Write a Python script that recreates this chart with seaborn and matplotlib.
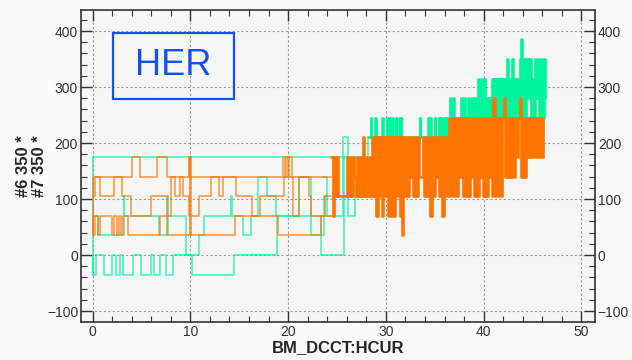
import matplotlib
matplotlib.use("Agg")
import matplotlib.pyplot as plt
import seaborn as sns
import pandas as pd
from matplotlib.patches import Rectangle
from matplotlib.ticker import MultipleLocator

# ---------------- data ----------------
x_label = "BM_DCCT:HCUR"
y_label = "#6 350 *\n#7 350 *"
box_text = "HER"
x_ticks = [0, 10, 20, 30, 40, 50]
y_ticks = [-100, 0, 100, 200, 300, 400]

# channel #6 (green) - sparse traces
green_a_x = [0.00, 0.00, 27.30]
green_a_y = [-35, 175, 105]

green_b_x = [0.00, 0.03, 0.30, 1.16, 1.98, 2.42, 2.83, 3.10, 4.10, 4.90, 6.00, 6.24,
             6.86, 7.47, 8.20, 10.20, 14.50, 18.90, 23.40, 25.70]
green_b_y = [0, -35, 0, -35, 0, -35, 0, -35, 0, -35, 0, -35,
             0, -35, 0, -35, 0, 70, 0, 175]

green_c_x = [0.00, 0.60, 3.20, 3.25, 6.80, 7.70, 7.75, 9.60, 10.90, 11.40, 14.20, 14.25,
             15.40, 16.20, 16.90, 17.80, 18.80, 21.10, 22.30, 23.70, 24.00]
green_c_y = [70, 35, 105, 70, 35, 105, 70, 0, 35, 70, 105, 70,
             35, 70, 140, 105, 70, 140, 35, 105, 105]

green_d_x = [23.50, 24.00, 25.60, 26.10, 26.80, 27.80, 28.20]
green_d_y = [140, 70, 210, 70, 175, 105, 210]

# channel #6 (green) - dense part
green_dense_x = [28.20, 28.45, 28.52, 28.90, 28.97, 29.60, 29.67, 30.10, 30.17, 30.40, 30.47,
                 30.62, 30.72, 31.00, 31.07, 31.30, 31.40, 31.50, 31.60, 33.45, 33.52, 34.30,
                 34.37, 34.55, 34.62, 35.00, 35.07, 35.40, 35.47, 35.60, 35.67, 35.90, 35.97,
                 36.20, 36.27, 36.45, 36.60, 36.67, 36.90, 36.97, 37.70, 37.77, 37.95, 38.05,
                 38.40, 38.55, 38.70, 38.85, 39.00, 39.15, 39.30, 39.40, 39.50, 39.65, 39.75,
                 39.85, 40.00, 40.10, 40.25, 40.40, 40.55, 40.70, 40.90, 41.05, 41.20, 41.35,
                 41.50, 41.65, 41.80, 41.95, 42.10, 42.25, 42.35, 42.45, 42.60, 42.75, 42.90,
                 43.00, 43.15, 43.30, 43.45, 43.60, 43.75, 43.82, 43.90, 44.05, 44.20, 44.35,
                 44.50, 44.65, 44.80, 44.95, 45.10, 45.25, 45.40, 45.55, 45.70, 45.85, 46.00,
                 46.15, 46.30]
green_dense_y = [210, 245, 210, 245, 210, 245, 210, 245, 210, 245, 210,
                 245, 210, 245, 210, 245, 210, 245, 210, 245, 210, 245,
                 210, 245, 210, 245, 210, 245, 210, 245, 210, 245, 210,
                 245, 210, 245, 280, 245, 280, 245, 280, 245, 280, 245,
                 280, 245, 280, 245, 280, 245, 280, 315, 245, 280, 315,
                 245, 315, 245, 280, 245, 280, 245, 315, 245, 315, 245,
                 315, 245, 315, 245, 315, 245, 350, 245, 315, 245, 350,
                 245, 315, 245, 315, 245, 350, 385, 245, 350, 245, 350,
                 280, 350, 245, 315, 245, 350, 280, 350, 245, 350, 245,
                 350, 280]

# channel #7 (orange) - sparse traces
orange_a_x = [0.00, 0.00, 4.00, 4.80, 6.60, 7.60, 9.85, 9.90, 9.95, 10.00, 19.50, 19.70,
              19.80, 20.00, 20.10, 20.40, 24.40]
orange_a_y = [35, 140, 175, 140, 175, 140, 175, 140, 175, 140, 175, 140,
              175, 140, 175, 140, 140]

orange_b_x = [0.00, 0.24, 0.74, 2.20, 3.05, 3.95, 6.00, 7.60, 8.05, 8.40, 8.90, 9.20, 9.90,
              10.90, 12.10, 12.90, 13.30, 14.70, 16.30, 17.10, 19.60, 20.50, 21.10, 22.10,
              22.30, 23.80, 24.40]
orange_b_y = [105, 140, 105, 140, 105, 70, 105, 70, 140, 105, 140, 105, 70,
              105, 140, 105, 140, 105, 70, 105, 140, 70, 140, 105,
              70, 105, 105]

orange_c_x = [0.00, 0.05, 0.20, 0.55, 0.75, 2.00, 2.20, 2.50, 2.70, 2.90, 3.10, 3.60,
              6.90, 7.60, 14.60, 19.00, 23.40, 24.40]
orange_c_y = [70, 35, 70, 35, 70, 35, 70, 35, 70, 35, 70, 35,
              70, 35, 70, 35, 70, 70]

orange_d_x = [9.88, 9.92, 9.96, 10.02]
orange_d_y = [35, 175, 35, 175]

# channel #7 (orange) - dense part
orange_dense_x = [24.40, 24.55, 24.70, 24.85, 25.00, 25.15, 26.00, 26.15, 26.30, 26.45, 26.60,
                  26.75, 26.90, 27.05, 27.20, 27.35, 27.50, 27.65, 27.80, 27.95, 28.10, 28.25,
                  28.40, 28.55, 28.70, 28.85, 29.00, 29.15, 29.30, 29.45, 29.60, 29.75, 29.90,
                  30.05, 30.20, 30.35, 30.50, 30.65, 30.80, 30.95, 31.10, 31.25, 31.40, 31.55,
                  31.65, 31.75, 31.90, 32.05, 32.20, 32.35, 32.50, 32.65, 32.80, 32.95, 33.10,
                  33.25, 33.40, 33.80, 33.95, 34.10, 34.25, 34.40, 34.55, 34.70, 34.85, 35.00,
                  35.15, 35.30, 35.45, 35.60, 35.75, 35.90, 36.05, 36.20, 36.35, 36.50, 36.65,
                  36.80, 36.95, 37.10, 37.25, 37.40, 37.55, 37.70, 37.85, 38.00, 38.15, 38.30,
                  38.45, 38.60, 38.75, 38.90, 39.05, 39.20, 39.35, 39.50, 39.65, 39.80, 39.95,
                  40.10, 40.25, 40.40, 40.55, 40.70, 40.85, 41.00, 41.15, 41.30, 41.45, 41.60,
                  41.75, 41.90, 42.05, 42.20, 42.35, 42.50, 42.65, 42.80, 42.95, 43.10, 43.25,
                  43.40, 43.55, 43.70, 43.85, 44.00, 44.15, 44.30, 44.45, 44.60, 44.75, 44.90,
                  45.05, 45.20, 45.35, 45.50, 45.65, 45.80, 45.95, 46.10]
orange_dense_y = [175, 70, 175, 105, 175, 105, 175, 105, 175, 105, 175,
                  140, 105, 175, 105, 175, 105, 210, 105, 175, 105, 175,
                  105, 210, 105, 210, 70, 210, 105, 210, 70, 210, 105,
                  210, 70, 210, 70, 210, 70, 210, 105, 210, 70, 210,
                  35, 210, 105, 210, 105, 210, 140, 210, 105, 210, 105,
                  210, 140, 210, 105, 210, 105, 210, 70, 210, 105, 210,
                  140, 210, 105, 210, 70, 210, 105, 210, 105, 245, 105,
                  245, 105, 245, 105, 245, 140, 245, 105, 245, 105, 245,
                  105, 245, 140, 245, 105, 245, 105, 245, 140, 245, 105,
                  245, 105, 245, 140, 245, 105, 280, 105, 245, 105, 245,
                  105, 245, 280, 140, 245, 140, 245, 140, 245, 140, 245,
                  175, 245, 280, 140, 245, 140, 245, 175, 245, 175, 245,
                  175, 245, 175, 245, 175, 245, 175, 245]

GREEN = "#00f59c"
ORANGE = "#ff7300"


def runs_frame(runs):
    parts = []
    for i, (xs, ys) in enumerate(runs):
        parts.append(pd.DataFrame({"x": xs, "y": ys, "run": i}))
    return pd.concat(parts, ignore_index=True)


green_sparse = runs_frame([(green_a_x, green_a_y), (green_b_x, green_b_y),
                           (green_c_x, green_c_y), (green_d_x, green_d_y)])
green_dense = runs_frame([(green_dense_x, green_dense_y)])
orange_sparse = runs_frame([(orange_a_x, orange_a_y), (orange_b_x, orange_b_y),
                            (orange_c_x, orange_c_y), (orange_d_x, orange_d_y)])
orange_dense = runs_frame([(orange_dense_x, orange_dense_y)])

# ---------------- figure ----------------
sns.set_style("ticks")
plt.rcParams["font.family"] = ["Liberation Sans", "DejaVu Sans"]

fig, ax = plt.subplots(figsize=(6.32, 3.60), dpi=100)
fig.subplots_adjust(left=0.128, right=0.9415, bottom=0.1056, top=0.972)
fig.patch.set_facecolor("#fbfbfb")
ax.set_facecolor("#f6f6f6")

common = dict(x="x", y="y", units="run", estimator=None, sort=False,
              drawstyle="steps-post", legend=False, ax=ax)
sns.lineplot(data=green_sparse, color=GREEN, lw=1.2, alpha=0.7, **common)
sns.lineplot(data=green_dense, color=GREEN, lw=1.9, alpha=1.0, **common)
sns.lineplot(data=orange_sparse, color=ORANGE, lw=1.2, alpha=0.7, **common)
sns.lineplot(data=orange_dense, color=ORANGE, lw=1.9, alpha=1.0, **common)

ax.set_xlim(-1.2, 51.4)
ax.set_ylim(-119.6, 437.5)
ax.set_xticks(x_ticks)
ax.set_yticks(y_ticks)
ax.xaxis.set_minor_locator(MultipleLocator(2))
ax.yaxis.set_minor_locator(MultipleLocator(20))
ax.tick_params(which="both", direction="in", top=True, right=True,
               labelright=True, colors="#333333", labelsize=10, pad=2)
ax.tick_params(which="major", length=8, width=1.0)
ax.tick_params(which="minor", length=4.5, width=0.8)

ax.grid(which="major", color="#9a9a9a", linestyle=(0, (2, 2)), linewidth=0.8)
ax.set_axisbelow(True)
for s in ax.spines.values():
    s.set_color("#333333")
    s.set_linewidth(1.2)

ax.set_xlabel(x_label, fontsize=12, fontweight="bold", labelpad=1)
ax.set_ylabel(y_label, fontsize=12, fontweight="bold", linespacing=1.1)
ax.yaxis.set_label_coords(-0.066, 0.5)

ax.add_patch(Rectangle((0.0623, 0.7147), 0.2354, 0.2113, transform=ax.transAxes,
                       fill=False, edgecolor="#1450f5", lw=1.6, zorder=5))
ax.text(0.18, 0.822, box_text, transform=ax.transAxes, ha="center", va="center",
        fontsize=26, color="#1450f5", zorder=5)

fig.savefig("out.png", dpi=100, facecolor=fig.get_facecolor())
